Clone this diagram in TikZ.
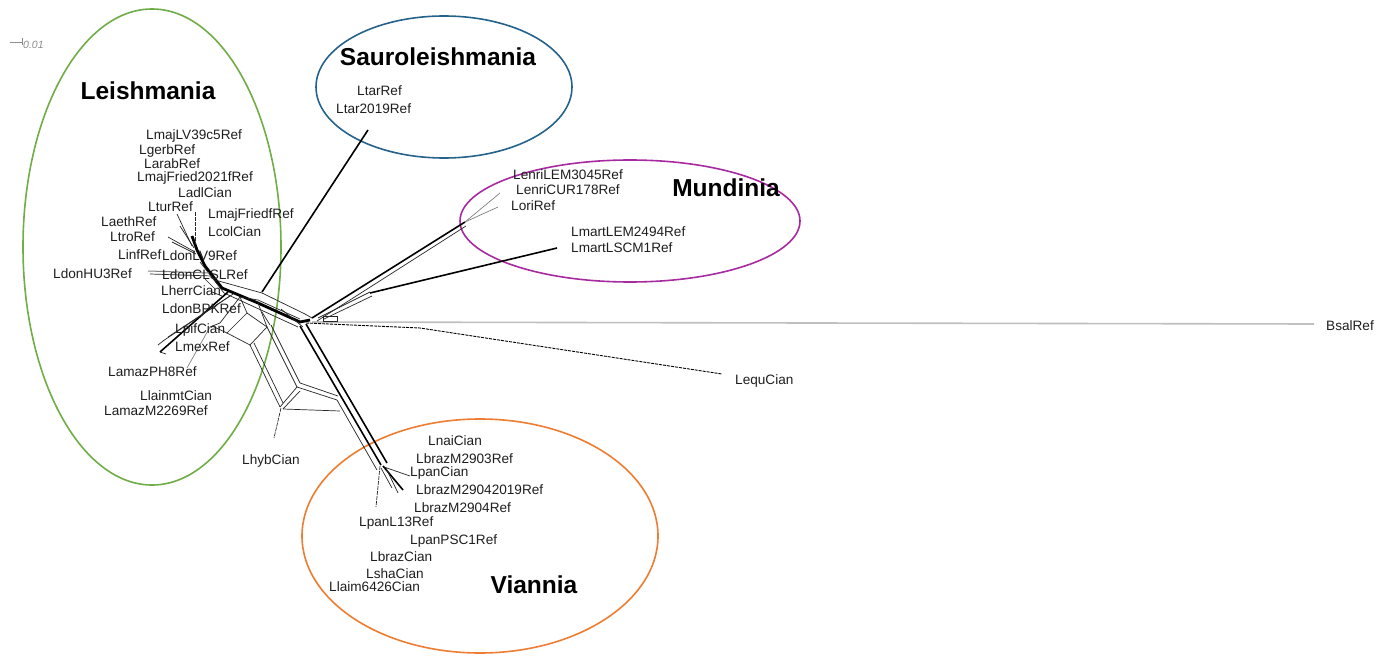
\documentclass[tikz,border=0pt]{standalone}
\usepackage{fontspec}
\setmainfont{Liberation Sans}
\definecolor{cgreen}{RGB}{112,173,71}
\definecolor{cblue}{RGB}{38,99,140}
\definecolor{cpurple}{RGB}{166,43,160}
\definecolor{corange}{RGB}{237,125,49}
\definecolor{ink}{RGB}{30,30,30}
\begin{document}
\begin{tikzpicture}[x=1pt,y=-1pt,
  lab/.style={anchor=west,inner sep=0pt,text=ink,font=\fontsize{13.6}{15}\selectfont},
  grp/.style={anchor=center,inner sep=0pt,font=\fontsize{24.5}{28}\selectfont\bfseries},
  ell/.style={line width=1.6pt},
  net/.style={line width=0.7pt,black!85},
  thk/.style={line width=2.8pt,black},
  mid/.style={line width=1.6pt,black},
  gry/.style={line width=0.7pt,black!50},
  dsh/.style={line width=0.9pt,black,dash pattern=on 3pt off 1pt}]
\useasboundingbox (0,0) rectangle (1390,658);
% ellipses
\draw[ell,cgreen] (152,247) ellipse [x radius=129,y radius=238];
\draw[ell,cblue] (444,87) ellipse [x radius=128,y radius=71];
\draw[ell,cpurple] (630,221) ellipse [x radius=170,y radius=61];
\draw[ell,corange] (480,536) ellipse [x radius=178,y radius=117];
% scale bar
\draw[black!45,line width=0.7pt] (10,42) -- (22,42) (22,38) -- (22,45);
\node[anchor=west,inner sep=0pt,text=black!45,font=\fontsize{10.5}{12}\selectfont\itshape] (scale) at (23,45) {0.01};
% ---- network ----
% Bsal and Lequ rays
\draw[black!25,line width=1.6pt] (312,322) -- (1314,324);
\draw[dsh] (306,323) -- (420,328) -- (722,374);
\draw[net] (323,316) rectangle (337,321);
% Leishmania trunk
\draw[thk] (192,236) -- (197,250) -- (205,266) -- (222,288) -- (258,303) -- (300,322) -- (310,320);
\draw[net] (200,262) -- (224,293) -- (298,327);
\draw[net] (215,280) -- (262,293) -- (305,314) -- (312,318);
\draw[net] (240,297) -- (258,300) -- (300,319);
% upper Leishmania tips
\draw[net] (177,214) -- (192,246);
\draw[net] (180,226) -- (194,248);
\draw[net] (168,237) -- (195,252);
\draw[net] (172,242) -- (196,254);
\draw[net,dash pattern=on 4pt off 1pt] (195,212) -- (195,244);
\draw[gry,line width=1pt] (148,271) -- (209,273);
\draw[net] (150,274) -- (212,276);
\draw[net] (205,279) -- (214,288) (212,292) -- (222,296);
% mexicana / amazonensis
\draw[mid] (228,292) -- (160,352);
\draw[net] (233,294) -- (163,341);
\draw[net] (230,296) -- (168,337);
\draw[net] (160,352) -- (166,354) (163,341) -- (158,345);
\draw[net] (240,297) -- (220,323) -- (210,327);
\draw[gry] (210,327) -- (187,368);
% central reticulation
\draw[net] (227,333) -- (247,313) -- (267,327) -- (250,345) -- cycle;
\draw[net] (227,333) -- (212,326);
\draw[net] (247,313) -- (240,297);
\draw[net] (267,327) -- (258,303);
\draw[net] (262,312) -- (270,325);
\draw[net] (250,345) -- (280,407);
\draw[net] (254,343) -- (283,403);
\draw[net] (267,327) -- (297,387);
\draw[net] (271,325) -- (300,383);
\draw[net] (280,407) -- (297,387);
\draw[net] (283,409) -- (300,391);
\draw[net] (297,387) -- (337,400);
\draw[net] (300,383) -- (338,396);
\draw[net] (283,409) -- (340,411);
\draw[net] (281,309) -- (303,327);
\draw[net,dash pattern=on 4pt off 1pt] (281,408) -- (274,438);
% Viannia trunk
\draw[mid] (300,326) -- (381,465);
\draw[mid] (306,324) -- (387,463);
\draw[net] (337,400) -- (377,470);
\draw[mid] (383,466) -- (403,490);
\draw[net] (386,468) -- (398,493);
\draw[net] (381,468) -- (392,488);
\draw[net,dash pattern=on 4pt off 1pt] (380,466) -- (376,507);
\draw[net] (384,467) -- (410,476);
% Sauroleishmania
\draw[mid] (262,292) -- (368,130);
% Mundinia
\draw[mid] (312,318) -- (465,222);
\draw[net] (317,321) -- (466,226);
\draw[gry] (465,222) -- (500,193);
\draw[gry] (465,222) -- (498,207);
\draw[net] (318,318) -- (370,292);
\draw[net] (324,319) -- (372,296);
\draw[mid] (370,293) -- (557,248);
% ---- group titles ----
\node[grp] (tLeish) at (148,91) {Leishmania};
\node[grp] (tSauro) at (438,57) {Sauroleishmania};
\node[grp] (tMund) at (726,188) {Mundinia};
\node[grp] (tVian) at (534,585) {Viannia};
% ---- Leishmania labels ----
\node[lab] (n1) at (146,136) {LmajLV39c5Ref};
\node[lab] (n2) at (139,151) {LgerbRef};
\node[lab] (n3) at (144,164) {LarabRef};
\node[lab] (n4) at (137,178) {LmajFried2021fRef};
\node[lab] (n5) at (178,193) {LadlCian};
\node[lab] (n6) at (148,207) {LturRef};
\node[lab] (n7) at (208,215) {LmajFriedfRef};
\node[lab] (n8) at (101,222) {LaethRef};
\node[lab] (n9) at (208,232) {LcolCian};
\node[lab] (n10) at (110,237) {LtroRef};
\node[lab] (n11) at (118,255) {LinfRef};
\node[lab] (n12) at (162,256) {LdonLV9Ref};
\node[lab] (n13) at (53,274) {LdonHU3Ref};
\node[lab] (n14) at (162,275) {LdonCLSLRef};
\node[lab] (n15) at (161,291) {LherrCian};
\node[lab] (n16) at (162,309) {LdonBPKRef};
\node[lab] (n17) at (175,330) {LpifCian};
\node[lab] (n18) at (175,347) {LmexRef};
\node[lab] (n19) at (108,372) {LamazPH8Ref};
\node[lab] (n20) at (140,396) {LlainmtCian};
\node[lab] (n21) at (104,411) {LamazM2269Ref};
\node[lab] (n22) at (242,461) {LhybCian};
% ---- Sauroleishmania ----
\node[lab] (s1) at (357,91) {LtarRef};
\node[lab] (s2) at (336,109) {Ltar2019Ref};
% ---- Mundinia ----
\node[lab] (m1) at (513,175) {LenriLEM3045Ref};
\node[lab] (m2) at (516,190) {LenriCUR178Ref};
\node[lab] (m3) at (511,206) {LoriRef};
\node[lab] (m4) at (571,232) {LmartLEM2494Ref};
\node[lab] (m5) at (571,248) {LmartLSCM1Ref};
% ---- outgroups ----
\node[lab] (o1) at (735,381) {LequCian};
\node[lab] (o2) at (1326,326) {BsalRef};
% ---- Viannia ----
\node[lab] (v1) at (428,441) {LnaiCian};
\node[lab] (v2) at (416,459) {LbrazM2903Ref};
\node[lab] (v3) at (410,473) {LpanCian};
\node[lab] (v4) at (416,490) {LbrazM29042019Ref};
\node[lab] (v5) at (414,508) {LbrazM2904Ref};
\node[lab] (v6) at (359,523) {LpanL13Ref};
\node[lab] (v7) at (410,541) {LpanPSC1Ref};
\node[lab] (v8) at (370,557) {LbrazCian};
\node[lab] (v9) at (366,574) {LshaCian};
\node[lab] (v10) at (329,587) {Llaim6426Cian};
\end{tikzpicture}
\end{document}
